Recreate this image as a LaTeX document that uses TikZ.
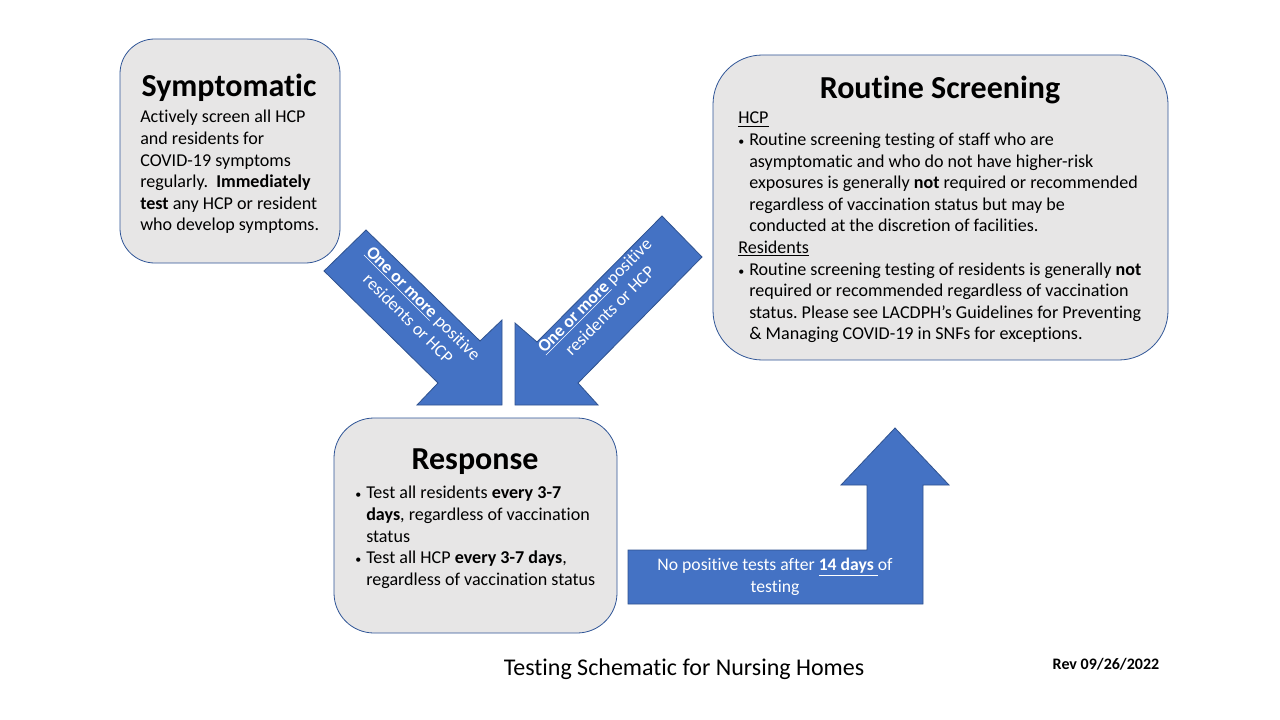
\documentclass[tikz,border=0pt]{standalone}
\usepackage{fontspec}
\setmainfont{Carlito}[Ligatures=NoCommon]
\usetikzlibrary{positioning}
\definecolor{boxgray}{HTML}{E7E6E6}
\definecolor{boxline}{HTML}{2F5597}
\definecolor{arrowblue}{HTML}{4472C4}
\definecolor{arrowline}{HTML}{2F528F}
\newcommand{\bul}{\makebox[8.25pt][l]{\fontsize{9}{9}\selectfont\textbullet}}
\newcommand{\ind}{\hspace*{8.25pt}}
\frenchspacing
\tikzset{
  panel/.style={draw=boxline, fill=boxgray, line width=0.6pt, rounded corners=#1, outer sep=0pt},
  blockarrow/.style={draw=arrowline, fill=arrowblue, line width=0.6pt},
  heading/.style={font=\fontsize{24}{28}\selectfont\bfseries, inner sep=0pt},
  body/.style={font=\fontsize{13.55}{16.2}\selectfont, align=left, inner sep=0pt, anchor=north west},
  arrowtext/.style={font=\fontsize{13.25}{16.2}\selectfont, text=white, align=center, inner sep=0pt}
}

\begin{document}
\begin{tikzpicture}[x=0.75pt, y=-0.75pt]
\fill[white] (0,0) rectangle (1280,720);
\useasboundingbox (0,0) rectangle (1280,720);

\node[panel=26pt, minimum width=165pt, minimum height=168pt] (symptomatic) at (230,151) {};
\node[panel=37pt, minimum width=341.25pt, minimum height=228.75pt] (routine) at (940.5,207.5) {};
\node[panel=30pt, minimum width=212.25pt, minimum height=161.25pt] (response) at (475.5,525.5) {};

\node[heading] (symp_title) at (229,88) {Symptomatic};
\node[body] (symp_text) at (140,110) {Actively screen all HCP\\ and residents for\\ COVID-19 symptoms\\ regularly.\ \ \textbf{Immediately}\\ \textbf{test} any HCP or resident\\ who develop symptoms.};

\node[heading] (rout_title) at (940,90) {Routine Screening};
\node[body] (rout_text) at (738,112) {\underline{HCP}\\
\bul Routine screening testing of staff who are\\
\ind asymptomatic and who do not have higher-risk\\
\ind exposures is generally \textbf{not} required or recommended\\
\ind regardless of vaccination status but may be\\
\ind conducted at the discretion of facilities.\\
\underline{Residents}\\
\bul Routine screening testing of residents is generally \textbf{not}\\
\ind required or recommended regardless of vaccination\\
\ind status. Please see LACDPH’s Guidelines for Preventing\\
\ind \& Managing COVID-19 in SNFs for exceptions.};

\node[heading] (resp_title) at (475,462) {Response};
\node[body] (resp_text) at (355,486) {\bul Test all residents \textbf{every 3-7}\\
\ind \textbf{days}, regardless of vaccination\\
\ind status\\
\bul Test all HCP \textbf{every 3-7 days},\\
\ind regardless of vaccination status};

% block arrows
\draw[blockarrow] (324,271) -- (366,230) -- (480,341) -- (502,320) -- (502,405)
  -- (417,405) -- (438,383) -- cycle;
\draw[blockarrow] (662,216) -- (702,257) -- (578,383) -- (598,405) -- (515,405)
  -- (515,323) -- (537,342) -- cycle;
\draw[blockarrow] (628,604) -- (628,550) -- (867,550) -- (867,485) -- (841,485)
  -- (895,428) -- (949,485) -- (923,485) -- (923,604) -- cycle;

\node[arrowtext, rotate=-45] (left_label) at (416,311) {\underline{\textbf{One or more}} positive\\ residents or HCP};
\node[arrowtext, rotate=45] (right_label) at (602,303) {\underline{\textbf{One or more}} positive\\ residents or HCP};
\node[arrowtext] (clear_label) at (775,577) {No positive tests after \underline{\textbf{14 days }}of\\ testing};

\node[font=\fontsize{18}{21}\selectfont, inner sep=0pt] (caption) at (684,669) {Testing Schematic for Nursing Homes};
\node[font=\fontsize{12}{14}\selectfont\bfseries, inner sep=0pt] (rev) at (1106,664) {Rev 09/26/2022};
\end{tikzpicture}
\end{document}
